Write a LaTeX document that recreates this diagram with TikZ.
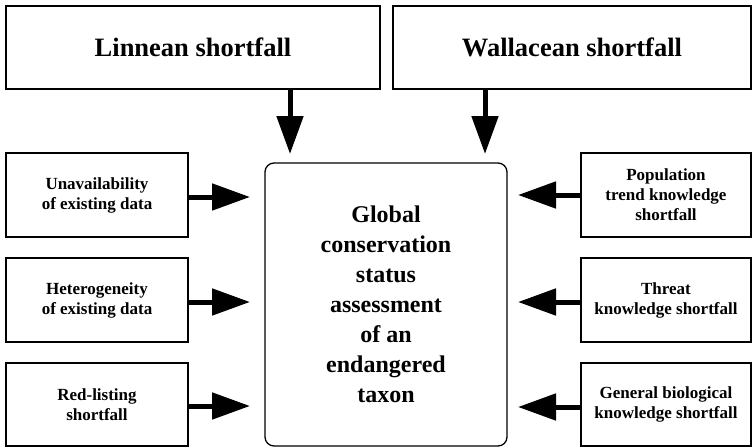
\documentclass[tikz,border=0pt]{standalone}
\usepackage{fontspec}
\setmainfont{Liberation Serif}
\usetikzlibrary{arrows.meta}
\begin{document}
\begin{tikzpicture}[x=1pt,y=-1pt,
  box/.style={draw, line width=1.3pt, inner sep=0pt, align=center, font=\bfseries\fontsize{17}{20}\selectfont},
  titlebox/.style={box, font=\bfseries\fontsize{26.5}{30}\selectfont},
  mainbox/.style={box, rounded corners=9pt, font=\bfseries\fontsize{24}{30}\selectfont},
  bigarrow/.style={line width=5pt, -{Triangle[length=38pt 0,width=26pt 0]}}]
\useasboundingbox (0,0) rectangle (752,447);
% top boxes
\node[titlebox, minimum width=374pt, minimum height=83pt] (lin) at (193,47.5) {Linnean shortfall};
\node[titlebox, minimum width=358pt, minimum height=83pt] (wal) at (572,47.5) {Wallacean shortfall};
% centre
\node[mainbox, minimum width=242pt, minimum height=283pt] (main) at (386,304.5)
  {Global\\conservation\\status\\assessment\\of an\\endangered\\taxon};
% left boxes
\node[box, minimum width=182pt, minimum height=84pt] (l1) at (97,195) {Unavailability\\of existing data};
\node[box, minimum width=182pt, minimum height=84pt] (l2) at (97,300) {Heterogeneity\\of existing data};
\node[box, minimum width=182pt, minimum height=83pt] (l3) at (97,404.5) {Red-listing\\shortfall};
% right boxes
\node[box, minimum width=170pt, minimum height=84pt] (r1) at (666,195) {Population\\trend knowledge\\shortfall};
\node[box, minimum width=170pt, minimum height=84pt] (r2) at (666,300) {Threat\\knowledge shortfall};
\node[box, minimum width=170pt, minimum height=83pt] (r3) at (666,404.5) {General biological\\knowledge shortfall};
% arrow tips
\coordinate (tl) at (290,154);
\coordinate (tw) at (485,154);
\coordinate (a1) at (250,197);
\coordinate (a2) at (250,302);
\coordinate (a3) at (250,406);
\coordinate (b1) at (518,195);
\coordinate (b2) at (518,302);
\coordinate (b3) at (518,407);
% arrows
\draw[bigarrow] (lin.south -| tl) -- (tl);
\draw[bigarrow] (wal.south -| tw) -- (tw);
\draw[bigarrow] (l1.east |- a1) -- (a1);
\draw[bigarrow] (l2.east |- a2) -- (a2);
\draw[bigarrow] (l3.east |- a3) -- (a3);
\draw[bigarrow] (r1.west |- b1) -- (b1);
\draw[bigarrow] (r2.west |- b2) -- (b2);
\draw[bigarrow] (r3.west |- b3) -- (b3);
\end{tikzpicture}
\end{document}
